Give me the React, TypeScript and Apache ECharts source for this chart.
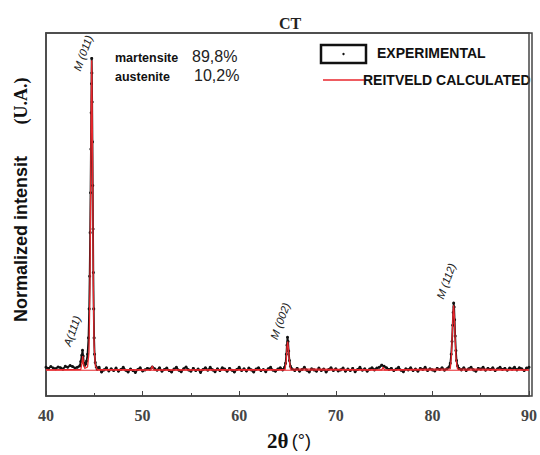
import React, { useEffect, useRef } from "react";
import * as echarts from "echarts";

// Experimental pattern: [2θ, normalized intensity]
const experimental: [number, number][] = [
  [40.0, 7.9], [40.25, 7.6], [40.5, 8.1], [40.75, 7.7], [41.0, 7.5], [41.25, 8.0], [41.5, 7.8], [41.75, 7.4],
  [42.0, 8.2], [42.25, 7.9], [42.5, 8.4], [42.75, 8.1], [43.0, 7.7], [43.25, 7.9], [43.5, 8.3], [43.6, 9.5],
  [43.7, 11.2], [43.78, 12.6], [43.85, 11.0], [43.92, 9.0], [44.0, 8.4], [44.1, 8.8], [44.2, 9.6], [44.3, 11.5],
  [44.4, 16], [44.47, 24], [44.52, 33], [44.57, 45], [44.61, 56], [44.65, 68], [44.68, 78], [44.71, 86],
  [44.73, 93], [44.75, 89], [44.78, 81], [44.81, 70], [44.84, 58], [44.87, 46], [44.9, 34], [44.94, 24],
  [44.98, 16], [45.03, 11.5], [45.1, 9.2], [45.2, 8.0], [45.3, 7.4], [45.5, 7.9], [45.75, 6.6], [46.0, 7.2],
  [46.25, 7.8], [46.5, 6.9], [46.75, 7.5], [47.0, 7.0], [47.25, 7.7], [47.5, 6.8], [47.75, 7.3], [48.0, 7.9],
  [48.25, 7.1], [48.5, 6.6], [48.75, 7.4], [49.0, 7.0], [49.25, 6.5], [49.5, 7.3], [49.75, 7.8], [50.0, 6.9],
  [50.25, 7.2], [50.5, 7.6], [50.75, 7.4], [51.0, 8.0], [51.25, 7.5], [51.5, 7.1], [51.75, 7.8], [52.0, 6.8],
  [52.25, 7.3], [52.5, 7.7], [52.75, 7.0], [53.0, 6.6], [53.25, 7.4], [53.5, 7.9], [53.75, 7.1], [54.0, 6.7],
  [54.25, 7.5], [54.5, 8.0], [54.75, 7.2], [55.0, 6.8], [55.25, 7.6], [55.5, 7.0], [55.75, 7.4], [56.0, 6.5],
  [56.25, 7.3], [56.5, 7.8], [56.75, 7.1], [57.0, 7.9], [57.25, 7.2], [57.5, 6.7], [57.75, 7.5], [58.0, 7.0],
  [58.25, 7.8], [58.5, 7.4], [58.75, 6.8], [59.0, 7.6], [59.25, 7.1], [59.5, 6.6], [59.75, 7.3], [60.0, 7.9],
  [60.25, 7.0], [60.5, 7.5], [60.75, 6.9], [61.0, 7.7], [61.25, 7.2], [61.5, 6.6], [61.75, 7.4], [62.0, 7.8],
  [62.25, 7.0], [62.5, 7.3], [62.75, 6.7], [63.0, 7.5], [63.25, 7.9], [63.5, 7.1], [63.75, 6.8], [64.0, 7.4],
  [64.25, 7.8], [64.5, 7.2], [64.7, 7.9], [64.8, 9.0], [64.88, 11.5], [64.94, 14.0], [65.0, 16.2], [65.06, 15.0],
  [65.12, 12.4], [65.2, 9.8], [65.3, 8.2], [65.45, 7.5], [65.75, 7.0], [66.0, 7.6], [66.25, 6.8], [66.5, 7.3],
  [66.75, 7.9], [67.0, 7.1], [67.25, 6.6], [67.5, 7.5], [67.75, 7.2], [68.0, 6.8], [68.25, 7.7], [68.5, 7.0],
  [68.75, 7.4], [69.0, 6.6], [69.25, 7.3], [69.5, 7.8], [69.75, 7.0], [70.0, 7.5], [70.25, 6.9], [70.5, 7.2],
  [70.75, 7.7], [71.0, 6.8], [71.25, 7.4], [71.5, 7.0], [71.75, 7.6], [72.0, 6.7], [72.25, 7.3], [72.5, 7.9],
  [72.75, 7.1], [73.0, 7.5], [73.25, 6.8], [73.5, 7.4], [73.75, 7.8], [74.0, 7.2], [74.25, 7.7], [74.5, 7.9],
  [74.75, 8.5], [75.0, 8.2], [75.25, 7.8], [75.5, 7.3], [75.75, 7.6], [76.0, 7.0], [76.25, 7.4], [76.5, 7.9],
  [76.75, 7.1], [77.0, 6.7], [77.25, 7.5], [77.5, 7.2], [77.75, 7.8], [78.0, 7.0], [78.25, 7.4], [78.5, 6.8],
  [78.75, 7.6], [79.0, 7.3], [79.25, 7.9], [79.5, 7.0], [79.75, 7.5], [80.0, 7.2], [80.25, 6.9], [80.5, 7.6],
  [80.75, 7.3], [81.0, 7.8], [81.25, 7.1], [81.5, 7.5], [81.7, 7.9], [81.85, 9.0], [81.95, 11.5], [82.03, 15],
  [82.1, 19.5], [82.15, 23], [82.2, 25.6], [82.25, 24.5], [82.3, 21], [82.36, 16.5], [82.43, 12.5], [82.5, 9.8],
  [82.6, 8.3], [82.75, 7.6], [83.0, 7.2], [83.25, 7.8], [83.5, 7.0], [83.75, 7.5], [84.0, 7.9], [84.25, 7.2],
  [84.5, 6.8], [84.75, 7.6], [85.0, 7.4], [85.25, 7.9], [85.5, 7.1], [85.75, 7.6], [86.0, 7.3], [86.25, 7.8],
  [86.5, 7.0], [86.75, 7.5], [87.0, 7.9], [87.25, 7.3], [87.5, 7.6], [87.75, 7.1], [88.0, 7.7], [88.25, 7.4],
  [88.5, 7.9], [88.75, 7.2], [89.0, 7.8], [89.25, 7.5], [89.5, 7.0], [89.75, 7.7], [90.0, 7.9],
];

// Rietveld calculated profile
const calculated: [number, number][] = [
  [40, 7.2], [43.6, 7.3], [43.72, 9], [43.8, 11.0], [43.88, 9], [44.0, 7.6], [44.3, 8.0], [44.45, 12],
  [44.55, 30], [44.62, 55], [44.68, 80], [44.73, 92.5], [44.78, 80], [44.84, 55], [44.9, 30], [44.98, 14],
  [45.1, 8.5], [45.3, 7.3], [50.85, 7.2], [51.0, 8.3], [51.15, 7.2], [64.75, 7.3], [64.88, 10], [64.95, 13.5],
  [65.02, 15.0], [65.1, 13], [65.18, 10], [65.3, 7.5], [74.75, 7.2], [74.9, 7.9], [75.05, 7.2], [81.85, 7.5],
  [81.97, 11], [82.07, 18], [82.15, 23.5], [82.2, 25], [82.27, 22], [82.35, 16], [82.45, 10], [82.6, 7.5],
  [90, 7.2],
];

const background: [number, number][] = [[40, 7.1], [90, 7.1]];

const xTicks = [40, 50, 60, 70, 80, 90];

const peakLabels = [
  { text: "M (011)", x: 83, y: 53 },
  { text: "A(111)", x: 72, y: 331 },
  { text: "M (002)", x: 280, y: 321 },
  { text: "M (112)", x: 446, y: 281 },
];

export default function App() {
  const ref = useRef<HTMLDivElement>(null);
  useEffect(() => {
    if (!ref.current) return;
    const chart = echarts.init(ref.current, null, { renderer: "svg" });
    const serif = "Liberation Serif";
    const sans = "Liberation Sans";
    const frame = { show: true, onZero: false, lineStyle: { color: "#444", width: 1.5 } };
    chart.setOption({
      animation: false,
      backgroundColor: "#ffffff",
      title: {
        text: "CT",
        left: 285,
        top: 10,
        textAlign: "center",
        textStyle: { fontFamily: serif, fontWeight: "bold", fontSize: 16, color: "#222" },
      },
      grid: {
        left: 46,
        right: 8,
        top: 33,
        bottom: 59,
        show: false,
      },
      xAxis: [
        {
          type: "value",
          position: "bottom",
          min: 40,
          max: 90,
          interval: 10,
          axisLine: frame,
          axisTick: { show: true, inside: true, length: 5, lineStyle: { color: "#444" } },
          minorTick: { show: true, splitNumber: 2, length: 3, lineStyle: { color: "#444" } },
          splitLine: { show: false },
          axisLabel: {
            margin: 11,
            fontFamily: serif,
            fontWeight: "bold",
            fontSize: 16,
            color: "#444",
            customValues: xTicks,
          },
        },
        {
          type: "value",
          position: "top",
          min: 40,
          max: 90,
          axisLine: frame,
          axisTick: { show: false },
          axisLabel: { show: false },
          splitLine: { show: false },
        },
      ],
      yAxis: [
        {
          type: "value",
          position: "left",
          min: 0,
          max: 100,
          axisLine: frame,
          axisTick: { show: false },
          axisLabel: { show: false },
          splitLine: { show: false },
        },
        {
          type: "value",
          position: "right",
          min: 0,
          max: 100,
          axisLine: frame,
          axisTick: { show: false },
          axisLabel: { show: false },
          splitLine: { show: false },
        },
      ],
      series: [
        {
          name: "EXPERIMENTAL",
          type: "line",
          data: experimental,
          showSymbol: true,
          symbol: "circle",
          symbolSize: 3,
          itemStyle: { color: "#111" },
          lineStyle: { color: "#111", width: 1.8 },
          z: 2,
        },
        {
          name: "background",
          type: "line",
          data: background,
          showSymbol: false,
          lineStyle: { color: "#e8262c", width: 1 },
          z: 3,
        },
        {
          name: "REITVELD CALCULATED",
          type: "line",
          data: calculated,
          showSymbol: false,
          lineStyle: { color: "#e8262c", width: 1.3 },
          z: 4,
        },
      ],
      graphic: [
        {
          type: "rect",
          z: 0,
          shape: { x: 46, y: 33, width: 486, height: 363 },
          style: { fill: "none", stroke: "#444", lineWidth: 1.5 },
          silent: true,
        },
        {
          type: "text",
          x: 21,
          y: 239,
          rotation: Math.PI / 2,
          style: {
            text: "Normalized intensit",
            fontFamily: sans,
            fontWeight: "bold",
            fontSize: 18,
            fill: "#111",
            align: "center",
            verticalAlign: "middle",
          },
        },
        {
          type: "text",
          x: 21,
          y: 101,
          rotation: Math.PI / 2,
          style: {
            text: "(U.A.)",
            fontFamily: serif,
            fontWeight: "bold",
            fontSize: 18,
            fill: "#111",
            align: "center",
            verticalAlign: "middle",
          },
        },
        {
          type: "text",
          x: 289,
          y: 441,
          style: {
            text: "{a|2θ} {b|(°)}",
            align: "center",
            verticalAlign: "middle",
            rich: {
              a: { fontFamily: serif, fontWeight: "bold", fontSize: 21, fill: "#111" },
              b: { fontFamily: sans, fontSize: 18, fill: "#111" },
            },
          },
        },
        {
          type: "text",
          x: 115,
          y: 58,
          style: { text: "martensite", fontFamily: sans, fontWeight: "bold", fontSize: 12.5, fill: "#111", verticalAlign: "middle" },
        },
        {
          type: "text",
          x: 192,
          y: 56,
          style: { text: "89,8%", fontFamily: sans, fontSize: 16, fill: "#222", verticalAlign: "middle" },
        },
        {
          type: "text",
          x: 115,
          y: 77,
          style: { text: "austenite", fontFamily: sans, fontWeight: "bold", fontSize: 12.5, fill: "#111", verticalAlign: "middle" },
        },
        {
          type: "text",
          x: 194,
          y: 75,
          style: { text: "10,2%", fontFamily: sans, fontSize: 16, fill: "#222", verticalAlign: "middle" },
        },
        {
          type: "rect",
          shape: { x: 321, y: 45, width: 45, height: 18 },
          style: { fill: "none", stroke: "#111", lineWidth: 2.5 },
        },
        {
          type: "circle",
          shape: { cx: 343.5, cy: 54, r: 1.2 },
          style: { fill: "#111" },
        },
        {
          type: "text",
          x: 377,
          y: 53,
          style: { text: "EXPERIMENTAL", fontFamily: sans, fontWeight: "bold", fontSize: 14, fill: "#111", verticalAlign: "middle" },
        },
        {
          type: "line",
          shape: { x1: 323, y1: 80, x2: 364, y2: 80 },
          style: { stroke: "#e8262c", lineWidth: 1.5 },
        },
        {
          type: "text",
          x: 363,
          y: 80,
          style: { text: "REITVELD CALCULATED", fontFamily: sans, fontWeight: "bold", fontSize: 14, fill: "#111", verticalAlign: "middle" },
        },
        ...peakLabels.map((p) => ({
          type: "text",
          x: p.x,
          y: p.y,
          rotation: (70 * Math.PI) / 180,
          style: {
            text: p.text,
            fontFamily: sans,
            fontStyle: "italic",
            fontSize: 11,
            fill: "#222",
            align: "center",
            verticalAlign: "middle",
          },
        })),
      ],
    });
    return () => chart.dispose();
  }, []);
  return <div ref={ref} style={{ position: "fixed", left: 0, top: 0, width: 540, height: 455 }} />;
}
